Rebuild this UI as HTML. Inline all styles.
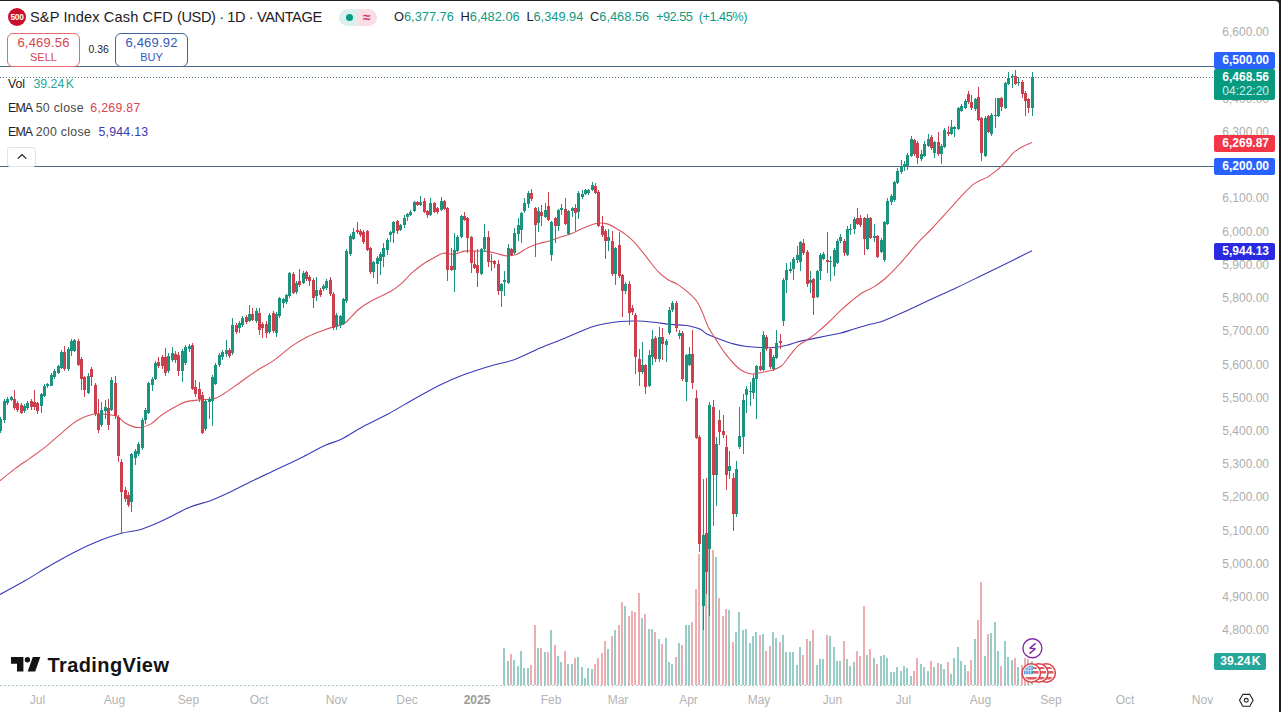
<!DOCTYPE html>
<html><head><meta charset="utf-8"><title>S&amp;P Index Cash CFD</title>
<style>
html,body{margin:0;padding:0}
body{width:1281px;height:712px;overflow:hidden;background:#1f1f21;position:relative;font-family:"Liberation Sans",sans-serif;}
#pg{position:absolute;left:0;top:1px;width:1278.5px;height:711px;background:#fff;border-top-right-radius:4px;overflow:hidden}
#in{position:absolute;left:0;top:-1px;width:1281px;height:712px}
.t{position:absolute;white-space:nowrap;line-height:1}
.ax{position:absolute;right:12px;width:70px;text-align:right;font-size:12px;line-height:16px;height:16px;color:#adadad;white-space:nowrap}
.mo{position:absolute;top:692px;width:60px;text-align:center;font-size:12px;line-height:16px;color:#b3b3b3}
.yr{color:#9a9a9a;font-weight:bold}
.lb{position:absolute;left:1214px;width:60.5px;height:16.5px;border-radius:2px;color:#fff;font-weight:bold;font-size:12px;line-height:16.5px;text-align:right;box-sizing:border-box;padding-right:5.5px;white-space:nowrap}
.box{position:absolute;top:33px;height:34px;box-sizing:border-box;border-radius:6px;background:#fff;text-align:center;white-space:nowrap}
.box b{display:block;font-weight:normal;font-size:13px;line-height:14px;margin-top:2px;letter-spacing:0.2px}
.box i{display:block;font-style:normal;font-size:11px;line-height:13px;margin-top:1px}
</style></head><body>
<div id="pg"><div id="in">
<svg width="1281" height="712" viewBox="0 0 1281 712" style="position:absolute;left:0;top:0">
<line x1="0" y1="685.5" x2="1030" y2="685.5" stroke="#a9c9c6" stroke-width="1" stroke-dasharray="2 2"/>
<path d="M503 648h2V685h-2zM507 661h2V685h-2zM513 660h2V685h-2zM517 666h2V685h-2zM520 651h2V685h-2zM523 668h2V685h-2zM527 668h2V685h-2zM537 648h2V685h-2zM544 652h2V685h-2zM550 630h2V685h-2zM557 656h2V685h-2zM560 662h2V685h-2zM567 664h2V685h-2zM571 664h2V685h-2zM577 657h2V685h-2zM581 667h2V685h-2zM584 678h2V685h-2zM587 668h2V685h-2zM591 669h2V685h-2zM607 649h2V685h-2zM614 630h2V685h-2zM624 606h2V685h-2zM641 618h2V685h-2zM648 629h2V685h-2zM651 629h2V685h-2zM658 639h2V685h-2zM665 638h2V685h-2zM668 662h2V685h-2zM671 664h2V685h-2zM678 643h2V685h-2zM685 625h2V685h-2zM688 625h2V685h-2zM702 535h2V685h-2zM708 540h2V685h-2zM715 557h2V685h-2zM728 610h2V685h-2zM735 632h2V685h-2zM738 612h2V685h-2zM742 630h2V685h-2zM745 629h2V685h-2zM749 643h2V685h-2zM752 636h2V685h-2zM755 632h2V685h-2zM762 634h2V685h-2zM772 632h2V685h-2zM775 638h2V685h-2zM782 635h2V685h-2zM785 652h2V685h-2zM789 652h2V685h-2zM792 652h2V685h-2zM796 665h2V685h-2zM799 647h2V685h-2zM809 641h2V685h-2zM816 665h2V685h-2zM819 659h2V685h-2zM822 659h2V685h-2zM829 636h2V685h-2zM833 647h2V685h-2zM836 661h2V685h-2zM839 661h2V685h-2zM846 659h2V685h-2zM849 666h2V685h-2zM853 662h2V685h-2zM866 655h2V685h-2zM873 658h2V685h-2zM880 656h2V685h-2zM883 655h2V685h-2zM886 658h2V685h-2zM890 672h2V685h-2zM893 672h2V685h-2zM896 667h2V685h-2zM900 671h2V685h-2zM903 666h2V685h-2zM906 668h2V685h-2zM910 676h2V685h-2zM920 664h2V685h-2zM923 667h2V685h-2zM927 671h2V685h-2zM933 667h2V685h-2zM940 664h2V685h-2zM943 669h2V685h-2zM950 674h2V685h-2zM953 658h2V685h-2zM957 647h2V685h-2zM960 661h2V685h-2zM964 665h2V685h-2zM974 639h2V685h-2zM984 656h2V685h-2zM990 633h2V685h-2zM994 622h2V685h-2zM997 651h2V685h-2zM1004 641h2V685h-2zM1007 657h2V685h-2zM1011 660h2V685h-2zM1017 667h2V685h-2zM1031 661h2V685h-2z" fill="#98cdc7"/>
<path d="M510 654h2V685h-2zM530 665h2V685h-2zM534 625h2V685h-2zM540 648h2V685h-2zM547 652h2V685h-2zM554 645h2V685h-2zM564 651h2V685h-2zM574 658h2V685h-2zM594 664h2V685h-2zM597 658h2V685h-2zM601 653h2V685h-2zM604 641h2V685h-2zM611 636h2V685h-2zM618 625h2V685h-2zM621 602h2V685h-2zM628 616h2V685h-2zM631 611h2V685h-2zM634 612h2V685h-2zM638 593h2V685h-2zM644 614h2V685h-2zM654 632h2V685h-2zM661 644h2V685h-2zM675 657h2V685h-2zM681 645h2V685h-2zM691 622h2V685h-2zM695 589h2V685h-2zM698 554h2V685h-2zM705 545h2V685h-2zM712 550h2V685h-2zM718 598h2V685h-2zM722 616h2V685h-2zM725 609h2V685h-2zM732 642h2V685h-2zM759 635h2V685h-2zM765 651h2V685h-2zM769 646h2V685h-2zM779 642h2V685h-2zM802 655h2V685h-2zM806 639h2V685h-2zM812 630h2V685h-2zM826 635h2V685h-2zM843 641h2V685h-2zM856 651h2V685h-2zM859 656h2V685h-2zM863 606h2V685h-2zM869 649h2V685h-2zM876 664h2V685h-2zM913 671h2V685h-2zM916 658h2V685h-2zM930 661h2V685h-2zM937 663h2V685h-2zM947 662h2V685h-2zM967 671h2V685h-2zM970 660h2V685h-2zM977 620h2V685h-2zM980 582h2V685h-2zM987 634h2V685h-2zM1000 666h2V685h-2zM1014 658h2V685h-2zM1021 665h2V685h-2zM1024 658h2V685h-2zM1027 659h2V685h-2z" fill="#ecaeb0"/>
<line x1="0" y1="66.5" x2="1214" y2="66.5" stroke="#4a6788" stroke-width="1.2"/>
<line x1="0" y1="166.5" x2="1214" y2="166.5" stroke="#4a6788" stroke-width="1.2"/>
<line x1="0" y1="77.5" x2="1214" y2="77.5" stroke="#56807a" stroke-width="1" stroke-dasharray="1 2"/>
<path d="M0 594.4C4.22 592.08 16.87 585.35 25.3 580.5C33.73 575.65 42.18 570.15 50.6 565.3C59.02 560.45 67.38 555.6 75.8 551.4C84.22 547.2 93.52 543.13 101.1 540.1C108.68 537.07 114.55 535.02 121.3 533.2C128.05 531.38 134.43 531.43 141.6 529.2C148.77 526.97 156.3 523.47 164.3 519.8C172.3 516.13 182.02 510.35 189.6 507.2C197.18 504.05 203.48 503.22 209.8 500.9C216.12 498.58 220.33 496.67 227.5 493.3C234.67 489.93 244.37 484.78 252.8 480.7C261.23 476.62 269.68 472.8 278.1 468.8C286.52 464.8 295.43 460.62 303.3 456.7C311.17 452.78 318.9 448.25 325.3 445.3C331.7 442.35 335.38 442.15 341.7 439C348.02 435.85 355.4 430.62 363.2 426.4C371 422.18 380.07 418.22 388.5 413.7C396.93 409.18 405.38 404.02 413.8 399.3C422.22 394.58 430.58 389.52 439 385.4C447.42 381.28 455.87 377.8 464.3 374.6C472.73 371.4 481.17 368.73 489.6 366.2C498.03 363.67 506.48 362.43 514.9 359.4C523.32 356.37 531.68 351.58 540.1 348C548.52 344.42 556.97 341.35 565.4 337.9C573.83 334.45 584.38 329.62 590.7 327.3C597.02 324.98 598.42 324.97 603.3 324C608.18 323.03 614.32 322 620 321.5C625.68 321 631.68 320.87 637.4 321C643.12 321.13 648.7 321.73 654.3 322.3C659.9 322.87 665.38 323.83 671 324.4C676.62 324.97 683.17 324.93 688 325.7C692.83 326.47 696.88 327.62 700 329C703.12 330.38 703.37 332.28 706.7 334C710.03 335.72 715.55 337.65 720 339.3C724.45 340.95 728.95 342.7 733.4 343.9C737.85 345.1 742.27 345.9 746.7 346.5C751.13 347.1 755.55 347.33 760 347.5C764.45 347.67 768.93 347.87 773.4 347.5C777.87 347.13 782.7 346.27 786.8 345.3C790.9 344.33 793.8 342.77 798 341.7C802.2 340.63 807.33 339.85 812 338.9C816.67 337.95 821.33 336.93 826 336C830.67 335.07 835.33 334.47 840 333.3C844.67 332.13 849.28 330.42 854 329C858.72 327.58 863.57 326.1 868.3 324.8C873.03 323.5 876.23 323.43 882.4 321.2C888.57 318.97 897.27 315.03 905.3 311.4C913.33 307.77 922.17 303.3 930.6 299.4C939.03 295.5 947.48 291.93 955.9 288C964.32 284.07 972.68 279.9 981.1 275.8C989.52 271.7 997.92 267.58 1006.4 263.4C1014.88 259.22 1027.73 252.82 1032 250.7" fill="none" stroke="#3a3ab8" stroke-width="1.1" stroke-linejoin="round"/>
<path d="M0 480.7C2.58 478.65 10.35 472.25 15.5 468.4C20.65 464.55 25.75 461.32 30.9 457.6C36.05 453.88 41.25 450.23 46.4 446.1C51.55 441.97 56.65 437.07 61.8 432.8C66.95 428.53 72.15 423.58 77.3 420.5C82.45 417.42 88.08 415.33 92.7 414.3C97.32 413.27 100.87 413.95 105 414.3C109.13 414.65 114.4 415.12 117.5 416.4C120.6 417.68 121.03 420.3 123.6 422C126.17 423.7 129.8 425.72 132.9 426.6C136 427.48 139.1 427.8 142.2 427.3C145.3 426.8 148.42 425.52 151.5 423.6C154.58 421.68 157.1 418.38 160.7 415.8C164.3 413.22 168.97 410.42 173.1 408.1C177.23 405.78 181.02 403.28 185.5 401.9C189.98 400.52 195.32 400.3 200 399.8C204.68 399.3 209.65 399.9 213.6 398.9C217.55 397.9 219.2 396.62 223.7 393.8C228.2 390.98 234.98 385.93 240.6 382C246.22 378.07 251.78 373.85 257.4 370.2C263.02 366.55 268.68 364.03 274.3 360.1C279.92 356.17 285.48 350.53 291.1 346.6C296.72 342.67 302.38 339.3 308 336.5C313.62 333.7 320.32 331.48 324.8 329.8C329.28 328.12 331.53 327.53 334.9 326.4C338.27 325.27 341.07 325.82 345 323C348.93 320.18 354 313.25 358.5 309.5C363 305.75 366.67 303.5 372 300.5C377.33 297.5 385.67 294.28 390.5 291.5C395.33 288.72 397.48 286.85 401 283.8C404.52 280.75 408.08 276.37 411.6 273.2C415.12 270.03 418.58 267.25 422.1 264.8C425.62 262.35 429.18 260.43 432.7 258.5C436.22 256.57 439.7 253.9 443.2 253.2C446.7 252.5 450.18 254.65 453.7 254.3C457.22 253.95 460.78 251.63 464.3 251.1C467.82 250.57 471.3 251.1 474.8 251.1C478.3 251.1 481.78 250.75 485.3 251.1C488.82 251.45 492.38 252.4 495.9 253.2C499.42 254 502.9 255.72 506.4 255.9C509.9 256.08 513.38 255.63 516.9 254.3C520.42 252.97 523.98 249.67 527.5 247.9C531.02 246.13 534.5 244.82 538 243.7C541.5 242.58 545 242.25 548.5 241.2C552 240.15 555.48 238.55 559 237.4C562.52 236.25 565.52 235.87 569.6 234.3C573.68 232.73 578.93 229.83 583.5 228C588.07 226.17 593.08 223.98 597 223.3C600.92 222.62 603.63 222.95 607 223.9C610.37 224.85 613.82 227.03 617.2 229C620.58 230.97 623.93 232.9 627.3 235.7C630.67 238.5 634.03 242.03 637.4 245.8C640.77 249.57 644.13 254.08 647.5 258.3C650.87 262.52 654.23 267.57 657.6 271.1C660.97 274.63 664.32 277.25 667.7 279.5C671.08 281.75 674.45 282.4 677.9 284.6C681.35 286.8 685.25 289.93 688.4 292.7C691.55 295.47 694.47 297.92 696.8 301.2C699.13 304.48 700.53 308.18 702.4 312.4C704.27 316.62 705.65 321.82 708 326.5C710.35 331.18 713.68 336.05 716.5 340.5C719.32 344.95 721.65 348.95 724.9 353.2C728.15 357.45 732.82 362.9 736 366C739.18 369.1 741.33 370.47 744 371.8C746.67 373.13 749.33 373.85 752 374C754.67 374.15 756.88 373.27 760 372.7C763.12 372.13 767.13 371.72 770.7 370.6C774.27 369.48 778.23 368.48 781.4 366C784.57 363.52 786.93 359.05 789.7 355.7C792.47 352.35 795.2 348.47 798 345.9C800.8 343.33 803.2 342.63 806.5 340.3C809.8 337.97 814.05 334.95 817.8 331.9C821.55 328.85 825.27 325.52 829 322C832.73 318.48 836.45 314.3 840.2 310.8C843.95 307.3 847.75 304.05 851.5 301C855.25 297.95 858.97 294.85 862.7 292.5C866.43 290.15 870.15 289.23 873.9 286.9C877.65 284.57 880.85 282.38 885.2 278.5C889.55 274.62 894.53 269.58 900 263.6C905.47 257.62 912.67 248.45 918 242.6C923.33 236.75 927.33 233.42 932 228.5C936.67 223.58 941.33 218.25 946 213.1C950.67 207.95 955.28 202.52 960 197.6C964.72 192.68 969.58 187.1 974.3 183.6C979.02 180.1 983.62 179.65 988.3 176.6C992.98 173.55 998.18 169.28 1002.4 165.3C1006.62 161.32 1010.33 155.75 1013.6 152.7C1016.87 149.65 1018.93 148.7 1022 147C1025.07 145.3 1030.33 143.25 1032 142.5" fill="none" stroke="#db545e" stroke-width="1.1" stroke-linejoin="round"/>
<path d="M0 417h1V433h-1zM4 399h1V423h-1zM7 397h1V405h-1zM11 396h1V401h-1zM24 404h1V413h-1zM27 401h1V410h-1zM41 393h1V413h-1zM44 384h1V397h-1zM47 383h1V388h-1zM51 373h1V386h-1zM54 369h1V379h-1zM58 365h1V374h-1zM61 350h1V369h-1zM68 347h1V371h-1zM71 339h1V356h-1zM74 339h1V352h-1zM88 373h1V394h-1zM101 402h1V427h-1zM105 400h1V419h-1zM111 377h1V411h-1zM131 453h1V512h-1zM135 449h1V465h-1zM138 442h1V456h-1zM142 418h1V450h-1zM145 408h1V424h-1zM148 382h1V414h-1zM152 377h1V391h-1zM155 361h1V380h-1zM168 353h1V373h-1zM172 347h1V362h-1zM182 349h1V382h-1zM185 345h1V365h-1zM189 344h1V352h-1zM205 399h1V431h-1zM209 397h1V419h-1zM212 375h1V426h-1zM215 363h1V385h-1zM219 353h1V367h-1zM222 350h1V360h-1zM226 340h1V357h-1zM232 318h1V355h-1zM239 321h1V333h-1zM242 316h1V327h-1zM249 305h1V322h-1zM256 308h1V323h-1zM269 313h1V334h-1zM276 312h1V337h-1zM279 297h1V318h-1zM283 298h1V308h-1zM286 294h1V304h-1zM289 272h1V298h-1zM296 281h1V294h-1zM303 271h1V284h-1zM316 277h1V301h-1zM323 284h1V291h-1zM326 279h1V290h-1zM336 313h1V330h-1zM340 315h1V328h-1zM343 298h1V325h-1zM346 249h1V303h-1zM350 234h1V256h-1zM353 228h1V240h-1zM373 261h1V278h-1zM377 256h1V284h-1zM380 252h1V275h-1zM383 243h1V267h-1zM387 238h1V255h-1zM390 231h1V242h-1zM393 221h1V243h-1zM400 224h1V231h-1zM404 215h1V228h-1zM407 213h1V221h-1zM410 210h1V216h-1zM414 201h1V212h-1zM420 196h1V206h-1zM430 198h1V216h-1zM441 197h1V211h-1zM454 233h1V292h-1zM457 235h1V252h-1zM461 215h1V238h-1zM481 248h1V275h-1zM484 224h1V252h-1zM501 283h1V307h-1zM504 271h1V296h-1zM508 244h1V284h-1zM514 228h1V254h-1zM518 218h1V241h-1zM521 212h1V243h-1zM524 198h1V213h-1zM528 191h1V208h-1zM538 207h1V232h-1zM545 203h1V218h-1zM551 221h1V261h-1zM558 209h1V231h-1zM561 204h1V215h-1zM568 210h1V235h-1zM572 207h1V217h-1zM578 191h1V219h-1zM582 190h1V199h-1zM585 189h1V195h-1zM588 189h1V195h-1zM592 182h1V191h-1zM608 229h1V251h-1zM615 247h1V285h-1zM625 282h1V294h-1zM642 342h1V374h-1zM649 350h1V387h-1zM652 330h1V365h-1zM659 327h1V362h-1zM666 339h1V362h-1zM669 307h1V335h-1zM672 301h1V312h-1zM679 330h1V339h-1zM686 354h1V401h-1zM689 347h1V366h-1zM703 479h1V630h-1zM709 402h1V616h-1zM716 437h1V506h-1zM729 451h1V479h-1zM736 461h1V517h-1zM739 407h1V449h-1zM743 394h1V454h-1zM746 386h1V413h-1zM750 382h1V406h-1zM753 374h1V399h-1zM756 365h1V419h-1zM763 331h1V371h-1zM773 355h1V371h-1zM776 330h1V359h-1zM783 278h1V326h-1zM786 263h1V293h-1zM790 262h1V273h-1zM793 257h1V280h-1zM797 246h1V263h-1zM800 241h1V271h-1zM810 271h1V293h-1zM817 270h1V298h-1zM820 253h1V280h-1zM823 252h1V260h-1zM830 256h1V281h-1zM834 248h1V276h-1zM837 239h1V264h-1zM840 234h1V243h-1zM847 226h1V256h-1zM850 224h1V235h-1zM854 217h1V234h-1zM867 214h1V250h-1zM874 224h1V242h-1zM881 238h1V253h-1zM884 221h1V262h-1zM887 198h1V225h-1zM891 194h1V205h-1zM894 181h1V202h-1zM897 168h1V184h-1zM901 160h1V174h-1zM904 161h1V171h-1zM907 153h1V170h-1zM911 136h1V157h-1zM921 150h1V161h-1zM924 141h1V157h-1zM928 134h1V147h-1zM934 141h1V158h-1zM941 144h1V164h-1zM944 128h1V148h-1zM951 120h1V135h-1zM954 126h1V137h-1zM958 107h1V130h-1zM961 104h1V112h-1zM965 99h1V109h-1zM975 98h1V111h-1zM985 116h1V157h-1zM991 113h1V136h-1zM995 98h1V128h-1zM998 98h1V117h-1zM1005 82h1V109h-1zM1008 72h1V85h-1zM1012 74h1V88h-1zM1018 77h1V86h-1zM1032 72h1V116h-1zM-1 419h3V431h-3zM3 401h3V420h-3zM6 399h3V403h-3zM10 397h3V400h-3zM23 406h3V411h-3zM26 403h3V408h-3zM40 394h3V406h-3zM43 386h3V396h-3zM46 384h3V386h-3zM50 375h3V386h-3zM53 371h3V377h-3zM57 366h3V373h-3zM60 352h3V368h-3zM67 349h3V369h-3zM70 341h3V351h-3zM73 340h3V351h-3zM87 376h3V393h-3zM100 410h3V425h-3zM104 407h3V411h-3zM110 380h3V410h-3zM130 454h3V502h-3zM134 451h3V458h-3zM137 444h3V454h-3zM141 420h3V448h-3zM144 410h3V420h-3zM147 383h3V413h-3zM151 379h3V385h-3zM154 363h3V379h-3zM167 356h3V371h-3zM171 353h3V360h-3zM181 351h3V371h-3zM184 347h3V363h-3zM188 346h3V349h-3zM204 401h3V429h-3zM208 399h3V402h-3zM211 377h3V401h-3zM214 365h3V384h-3zM218 355h3V365h-3zM221 352h3V357h-3zM225 350h3V354h-3zM231 325h3V353h-3zM238 323h3V328h-3zM241 318h3V325h-3zM248 314h3V321h-3zM255 311h3V321h-3zM268 315h3V332h-3zM275 314h3V333h-3zM278 298h3V316h-3zM282 299h3V303h-3zM285 295h3V302h-3zM288 273h3V296h-3zM295 283h3V292h-3zM302 273h3V283h-3zM315 290h3V296h-3zM322 286h3V289h-3zM325 281h3V288h-3zM335 315h3V327h-3zM339 316h3V325h-3zM342 299h3V324h-3zM345 251h3V301h-3zM349 236h3V254h-3zM352 232h3V239h-3zM372 262h3V272h-3zM376 258h3V264h-3zM379 254h3V261h-3zM382 248h3V257h-3zM386 240h3V250h-3zM389 232h3V235h-3zM392 222h3V233h-3zM399 225h3V230h-3zM403 218h3V225h-3zM406 214h3V217h-3zM409 212h3V215h-3zM413 202h3V211h-3zM419 202h3V205h-3zM429 203h3V215h-3zM440 201h3V210h-3zM453 250h3V270h-3zM456 237h3V251h-3zM460 216h3V237h-3zM480 249h3V274h-3zM483 237h3V249h-3zM500 284h3V291h-3zM503 280h3V282h-3zM507 248h3V283h-3zM513 233h3V253h-3zM517 225h3V234h-3zM520 213h3V230h-3zM523 203h3V211h-3zM527 193h3V204h-3zM537 211h3V223h-3zM544 210h3V217h-3zM550 222h3V255h-3zM557 210h3V226h-3zM560 208h3V210h-3zM567 211h3V234h-3zM571 208h3V211h-3zM577 193h3V212h-3zM581 194h3V197h-3zM584 190h3V194h-3zM587 190h3V193h-3zM591 185h3V190h-3zM607 237h3V241h-3zM614 248h3V274h-3zM624 284h3V291h-3zM641 365h3V372h-3zM648 355h3V386h-3zM651 339h3V357h-3zM658 337h3V359h-3zM665 341h3V345h-3zM668 310h3V333h-3zM671 303h3V310h-3zM678 333h3V336h-3zM685 355h3V382h-3zM688 354h3V365h-3zM702 535h3V606h-3zM708 405h3V549h-3zM715 444h3V475h-3zM728 466h3V471h-3zM735 469h3V514h-3zM738 436h3V447h-3zM742 400h3V437h-3zM745 389h3V395h-3zM749 391h3V392h-3zM752 378h3V393h-3zM755 366h3V379h-3zM762 335h3V370h-3zM772 357h3V369h-3zM775 343h3V358h-3zM782 280h3V321h-3zM785 270h3V280h-3zM789 269h3V271h-3zM792 259h3V269h-3zM796 255h3V260h-3zM799 242h3V262h-3zM809 280h3V283h-3zM816 271h3V297h-3zM819 255h3V271h-3zM822 254h3V259h-3zM829 261h3V262h-3zM833 250h3V267h-3zM836 241h3V263h-3zM839 237h3V241h-3zM846 229h3V255h-3zM849 229h3V230h-3zM853 219h3V229h-3zM866 218h3V249h-3zM873 236h3V238h-3zM880 240h3V252h-3zM883 222h3V260h-3zM886 201h3V224h-3zM890 196h3V202h-3zM893 182h3V200h-3zM896 171h3V183h-3zM900 166h3V172h-3zM903 164h3V167h-3zM906 155h3V166h-3zM910 139h3V156h-3zM920 154h3V159h-3zM923 144h3V156h-3zM927 139h3V146h-3zM933 142h3V153h-3zM940 146h3V154h-3zM943 130h3V147h-3zM950 127h3V134h-3zM953 127h3V129h-3zM957 108h3V129h-3zM960 106h3V111h-3zM964 101h3V108h-3zM974 99h3V109h-3zM984 118h3V156h-3zM990 115h3V134h-3zM994 115h3V116h-3zM997 98h3V116h-3zM1004 83h3V108h-3zM1007 78h3V84h-3zM1011 76h3V77h-3zM1017 82h3V83h-3zM1031 77h3V108h-3z" fill="#1c937e"/>
<path d="M14 390h1V410h-1zM17 401h1V412h-1zM21 403h1V414h-1zM31 399h1V410h-1zM34 390h1V410h-1zM37 402h1V414h-1zM64 346h1V371h-1zM78 339h1V366h-1zM81 357h1V390h-1zM84 376h1V397h-1zM91 367h1V386h-1zM95 383h1V416h-1zM98 399h1V433h-1zM108 399h1V430h-1zM115 376h1V419h-1zM118 415h1V462h-1zM121 459h1V533h-1zM125 487h1V502h-1zM128 492h1V507h-1zM158 357h1V368h-1zM162 355h1V369h-1zM165 348h1V376h-1zM175 351h1V363h-1zM178 352h1V376h-1zM192 343h1V390h-1zM195 380h1V397h-1zM199 382h1V402h-1zM202 392h1V434h-1zM229 348h1V358h-1zM236 323h1V334h-1zM246 315h1V324h-1zM252 308h1V321h-1zM259 308h1V335h-1zM262 322h1V338h-1zM266 321h1V338h-1zM273 311h1V333h-1zM293 272h1V294h-1zM299 269h1V287h-1zM306 271h1V281h-1zM309 275h1V286h-1zM313 278h1V308h-1zM320 288h1V297h-1zM330 277h1V296h-1zM333 292h1V330h-1zM357 222h1V234h-1zM360 229h1V237h-1zM363 230h1V244h-1zM367 230h1V251h-1zM370 247h1V274h-1zM397 220h1V234h-1zM417 201h1V206h-1zM424 198h1V213h-1zM427 210h1V218h-1zM434 202h1V213h-1zM437 207h1V214h-1zM444 200h1V210h-1zM447 207h1V281h-1zM451 248h1V271h-1zM464 212h1V221h-1zM467 217h1V253h-1zM471 236h1V273h-1zM474 251h1V269h-1zM477 249h1V287h-1zM488 231h1V267h-1zM491 254h1V271h-1zM494 260h1V268h-1zM498 260h1V295h-1zM511 248h1V256h-1zM531 189h1V201h-1zM535 207h1V257h-1zM541 205h1V226h-1zM548 192h1V221h-1zM555 217h1V243h-1zM565 198h1V225h-1zM575 204h1V231h-1zM595 183h1V194h-1zM598 190h1V227h-1zM602 216h1V237h-1zM605 229h1V259h-1zM612 231h1V276h-1zM619 232h1V278h-1zM622 274h1V317h-1zM629 281h1V325h-1zM632 305h1V315h-1zM635 313h1V374h-1zM639 349h1V386h-1zM645 364h1V394h-1zM655 336h1V362h-1zM662 328h1V360h-1zM676 301h1V332h-1zM682 331h1V381h-1zM692 330h1V389h-1zM696 390h1V439h-1zM699 435h1V552h-1zM706 478h1V594h-1zM713 400h1V526h-1zM719 410h1V445h-1zM723 415h1V438h-1zM726 435h1V490h-1zM733 473h1V531h-1zM760 352h1V371h-1zM766 335h1V351h-1zM770 347h1V369h-1zM780 334h1V349h-1zM803 239h1V255h-1zM807 250h1V287h-1zM813 278h1V315h-1zM827 232h1V273h-1zM844 239h1V256h-1zM857 208h1V225h-1zM860 215h1V227h-1zM864 217h1V255h-1zM870 217h1V239h-1zM877 235h1V258h-1zM914 139h1V156h-1zM917 141h1V164h-1zM931 135h1V150h-1zM938 132h1V156h-1zM948 126h1V136h-1zM968 91h1V104h-1zM971 95h1V110h-1zM978 87h1V121h-1zM981 117h1V161h-1zM988 115h1V133h-1zM1001 97h1V111h-1zM1015 70h1V85h-1zM1022 80h1V98h-1zM1025 91h1V116h-1zM1028 98h1V113h-1zM13 399h3V408h-3zM16 403h3V410h-3zM20 405h3V413h-3zM30 401h3V407h-3zM33 402h3V407h-3zM36 403h3V411h-3zM63 352h3V369h-3zM77 341h3V365h-3zM80 359h3V379h-3zM83 377h3V390h-3zM90 369h3V377h-3zM94 385h3V414h-3zM97 414h3V430h-3zM107 408h3V425h-3zM114 383h3V416h-3zM117 417h3V456h-3zM120 462h3V492h-3zM124 490h3V499h-3zM127 495h3V505h-3zM157 362h3V366h-3zM161 357h3V366h-3zM164 357h3V373h-3zM174 354h3V360h-3zM177 355h3V371h-3zM191 345h3V389h-3zM194 387h3V394h-3zM198 389h3V399h-3zM201 395h3V433h-3zM228 350h3V356h-3zM235 325h3V332h-3zM245 317h3V322h-3zM251 314h3V320h-3zM258 313h3V330h-3zM261 324h3V328h-3zM265 324h3V333h-3zM272 313h3V331h-3zM292 274h3V293h-3zM298 281h3V285h-3zM305 272h3V279h-3zM308 277h3V281h-3zM312 280h3V298h-3zM319 290h3V295h-3zM329 280h3V294h-3zM332 294h3V328h-3zM356 230h3V232h-3zM359 231h3V235h-3zM362 232h3V242h-3zM366 231h3V250h-3zM369 248h3V272h-3zM396 221h3V231h-3zM416 202h3V205h-3zM423 201h3V212h-3zM426 211h3V215h-3zM433 203h3V212h-3zM436 208h3V212h-3zM443 201h3V209h-3zM446 208h3V270h-3zM450 266h3V270h-3zM463 216h3V220h-3zM466 218h3V238h-3zM470 237h3V263h-3zM473 264h3V268h-3zM476 265h3V273h-3zM487 237h3V262h-3zM490 261h3V262h-3zM493 261h3V264h-3zM497 264h3V291h-3zM510 249h3V255h-3zM530 193h3V199h-3zM534 208h3V225h-3zM540 212h3V216h-3zM547 206h3V220h-3zM554 218h3V226h-3zM564 209h3V224h-3zM574 208h3V213h-3zM594 186h3V193h-3zM597 192h3V226h-3zM601 226h3V235h-3zM604 231h3V241h-3zM611 241h3V274h-3zM618 245h3V276h-3zM621 275h3V291h-3zM628 284h3V313h-3zM631 308h3V312h-3zM634 315h3V357h-3zM638 359h3V372h-3zM644 365h3V387h-3zM654 338h3V359h-3zM661 337h3V344h-3zM675 303h3V328h-3zM681 333h3V379h-3zM691 354h3V383h-3zM695 398h3V438h-3zM698 437h3V544h-3zM705 533h3V572h-3zM712 407h3V475h-3zM718 420h3V432h-3zM722 431h3V435h-3zM725 447h3V475h-3zM732 478h3V514h-3zM759 366h3V370h-3zM765 337h3V349h-3zM769 349h3V367h-3zM779 341h3V343h-3zM802 243h3V253h-3zM806 252h3V284h-3zM812 279h3V298h-3zM826 260h3V262h-3zM843 241h3V253h-3zM856 218h3V224h-3zM859 218h3V225h-3zM863 218h3V239h-3zM869 218h3V238h-3zM876 236h3V257h-3zM913 140h3V154h-3zM916 143h3V158h-3zM930 137h3V148h-3zM937 142h3V154h-3zM947 132h3V134h-3zM967 94h3V102h-3zM970 102h3V108h-3zM977 97h3V120h-3zM980 118h3V153h-3zM987 116h3V132h-3zM1000 98h3V107h-3zM1014 76h3V84h-3zM1021 82h3V94h-3zM1024 93h3V101h-3zM1027 99h3V108h-3z" fill="#cc404d"/>

<g>
<circle cx="1032.4" cy="648.3" r="9.5" fill="#fff" stroke="#842ba3" stroke-width="1.4"/>
<path d="M1035.6 643.4l-5.9 4.8 5.7 0.4-5.9 5" fill="none" stroke="#842ba3" stroke-width="1.45" stroke-linejoin="bevel"/>
</g>
<defs>
<clipPath id="fc"><circle cx="0" cy="0" r="7.4"/></clipPath>
<g id="flag">
<circle cx="0" cy="0" r="9.2" fill="#fff" stroke="#d9434a" stroke-width="1.5"/>
<g clip-path="url(#fc)">
<rect x="-8" y="-6" width="16" height="2" fill="#df5e63"/>
<rect x="-8" y="-2" width="16" height="2.6" fill="#df5e63"/>
<rect x="-8" y="4" width="16" height="2.6" fill="#df5e63"/>
</g>
</g>
<g id="flagf">
<use href="#flag"/>
<g clip-path="url(#fc)">
<rect x="-8" y="-8" width="9.6" height="9.2" fill="#4a9adf"/>
<path d="M-5.4-8v9.2M-3-8v9.2M-0.6-8v9.2M-8-5h9.6M-8-2.4h9.6" stroke="#d6ebfa" stroke-width="0.8" fill="none"/>
</g>
</g>
</defs>
<use href="#flag" x="1046.2" y="673"/>
<use href="#flag" x="1038.8" y="673"/>
<use href="#flagf" x="1031.3" y="673"/>

</svg>
<div class="ax" style="top:24.2px">6,600.00</div>
<div class="ax" style="top:57.5px">6,500.00</div>
<div class="ax" style="top:90.7px">6,400.00</div>
<div class="ax" style="top:123.9px">6,300.00</div>
<div class="ax" style="top:157.1px">6,200.00</div>
<div class="ax" style="top:190.4px">6,100.00</div>
<div class="ax" style="top:223.6px">6,000.00</div>
<div class="ax" style="top:256.8px">5,900.00</div>
<div class="ax" style="top:290.1px">5,800.00</div>
<div class="ax" style="top:323.3px">5,700.00</div>
<div class="ax" style="top:356.5px">5,600.00</div>
<div class="ax" style="top:389.7px">5,500.00</div>
<div class="ax" style="top:422.9px">5,400.00</div>
<div class="ax" style="top:456.2px">5,300.00</div>
<div class="ax" style="top:489.4px">5,200.00</div>
<div class="ax" style="top:522.6px">5,100.00</div>
<div class="ax" style="top:555.9px">5,000.00</div>
<div class="ax" style="top:589.1px">4,900.00</div>
<div class="ax" style="top:622.3px">4,800.00</div>

<div class="mo" style="left:7.5px">Jul</div>
<div class="mo" style="left:84.5px">Aug</div>
<div class="mo" style="left:158.5px">Sep</div>
<div class="mo" style="left:229px">Oct</div>
<div class="mo" style="left:306.5px">Nov</div>
<div class="mo" style="left:377px">Dec</div>
<div class="mo yr" style="left:447px">2025</div>
<div class="mo" style="left:521px">Feb</div>
<div class="mo" style="left:588px">Mar</div>
<div class="mo" style="left:658.5px">Apr</div>
<div class="mo" style="left:729px">May</div>
<div class="mo" style="left:802.5px">Jun</div>
<div class="mo" style="left:873.5px">Jul</div>
<div class="mo" style="left:950.5px">Aug</div>
<div class="mo" style="left:1021px">Sep</div>
<div class="mo" style="left:1095px">Oct</div>
<div class="mo" style="left:1172.5px">Nov</div>

<!-- header -->
<div style="position:absolute;left:8px;top:8px;width:18px;height:18px;border-radius:50%;background:#c8102e;color:#fff;font-size:8.3px;font-weight:bold;line-height:18px;text-align:center;letter-spacing:-0.2px">500</div>
<div class="t" id="title" style="left:30px;top:10px;font-size:14.6px;color:#1e2024"><span style="letter-spacing:0.11px">S&amp;P Index Cash CFD </span><span style="letter-spacing:-0.4px">(USD) · 1D · VANTAGE</span></div>
<div style="position:absolute;left:339px;top:9px;width:38px;height:17px;border-radius:9px;background:linear-gradient(90deg,#d9f0ec 0,#d9f0ec 50%,#fbdde4 50%,#fbdde4 100%)"></div>
<div style="position:absolute;left:345.5px;top:14px;width:7px;height:7px;border-radius:50%;background:#089981"></div>
<div class="t" style="left:363px;top:9.5px;font-size:14px;color:#d6336c;font-weight:bold">≈</div>
<div class="t" id="ohlc" style="left:394px;top:10.5px;font-size:12.8px;word-spacing:3.2px;color:#0e9a83"><span style="color:#1e2024">O</span>6,377.76 <span style="color:#1e2024">H</span>6,482.06 <span style="color:#1e2024">L</span>6,349.94 <span style="color:#1e2024">C</span>6,468.56 <span style="letter-spacing:-0.5px">+92.55 (+1.45%)</span></div>

<div class="box" style="left:7px;width:73px;border:1px solid #e46a70;color:#d9444d"><b>6,469.56</b><i>SELL</i></div>
<div class="t" style="left:88.5px;top:45px;font-size:10.4px;color:#1e2024">0.36</div>
<div class="box" style="left:115px;width:73px;border:1px solid #43639e;color:#3559b8"><b>6,469.92</b><i>BUY</i></div>

<div class="t" style="left:8px;top:78px;font-size:12.3px;color:#1e2024">Vol <span style="color:#26a69a;margin-left:5px">39.24<span style="margin-left:1.5px">K</span></span></div>
<div class="t" style="left:8px;top:102px;font-size:12.3px;color:#1e2024"><span style="letter-spacing:-0.8px">EMA</span> <span style="color:#4a4a4a;letter-spacing:0.3px">50 close</span> <span style="color:#d9444d;margin-left:3px;letter-spacing:0.3px">6,269.87</span></div>
<div class="t" style="left:8px;top:126px;font-size:12.3px;color:#1e2024"><span style="letter-spacing:-0.8px">EMA</span> <span style="color:#4a4a4a;letter-spacing:0.3px">200 close</span> <span style="color:#3a3ab0;margin-left:4px;letter-spacing:0.25px">5,944.13</span></div>
<div style="position:absolute;left:7px;top:146.5px;width:28.5px;height:20px;box-sizing:border-box;border:1px solid #e0e3eb;border-radius:3px;background:#fff"></div>
<svg style="position:absolute;left:16px;top:152px" width="12" height="9" viewBox="0 0 12 9"><path d="M1.8 6.6L6 2.6l4.2 4" fill="none" stroke="#1e2024" stroke-width="1.3"/></svg>

<!-- price labels -->
<div class="lb" style="top:52.2px;background:#2962ff">6,500.00</div>
<div class="lb" style="top:69px;height:30.5px;background:#089981;line-height:14px;padding-top:0.5px">6,468.56<br><span style="font-weight:normal;color:#c9f3e8">04:22:20</span></div>
<div class="lb" style="top:135.3px;background:#f23645">6,269.87</div>
<div class="lb" style="top:158.3px;background:#2962ff">6,200.00</div>
<div class="lb" style="top:243.2px;background:#2a2ae0">5,944.13</div>
<div class="lb" style="top:653px;left:1214px;width:51.5px;background:#26a69a;padding-right:5px">39.24<span style="margin-left:1.5px">K</span></div>

<!-- TradingView logo -->
<svg style="position:absolute;left:11px;top:657px" width="30" height="15" viewBox="0 0 30 15"><path d="M0 0h12.4v14.6H6V6.7H0z" fill="#131313"/><circle cx="16.4" cy="2.7" r="2.7" fill="#131313"/><path d="M21.8 0h7.5l-5.1 14.6h-7.5z" fill="#131313"/></svg>
<div class="t" id="tv" style="left:47.5px;top:654.6px;font-size:20px;font-weight:bold;color:#131313;letter-spacing:0.4px">TradingView</div>
<!-- gear hex -->
<svg style="position:absolute;left:1237.7px;top:692px" width="16.6" height="16.6" viewBox="0 0 18 18"><path d="M5.2 2.6h7.6L16.4 9l-3.6 6.4H5.2L1.6 9z" fill="none" stroke="#1e2024" stroke-width="1.2" stroke-linejoin="round"/><circle cx="9" cy="9" r="2.1" fill="none" stroke="#1e2024" stroke-width="1.2"/></svg>
</div></div>
</body></html>
